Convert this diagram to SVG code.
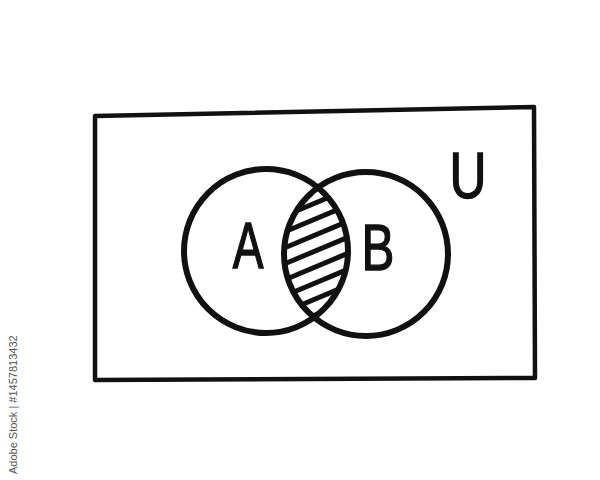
<svg xmlns="http://www.w3.org/2000/svg" width="600" height="480" viewBox="0 0 600 480">
<style>
.ink{fill:none;stroke:#111;stroke-linecap:round;stroke-linejoin:round}
.lbl{font-family:"Liberation Sans",Arial,sans-serif;font-size:64px;fill:#111;text-anchor:middle;stroke:#111;stroke-width:1.4}
.hatch{stroke:#111;stroke-width:5;stroke-linecap:butt}
</style>
<defs>
<clipPath id="clipA"><circle cx="266" cy="251" r="82"/></clipPath>
<clipPath id="clipB"><circle cx="366" cy="254" r="82"/></clipPath>
</defs>
<rect width="600" height="480" fill="#fff"/>
<g id="universe">
<path class="ink" stroke-width="4.5" d="M95,116 L534,107 L535,378 L95,380 Z"/>
<text class="lbl" transform="translate(468,198) scale(0.8,1)">U</text>
</g>
<g id="intersection" clip-path="url(#clipA)">
<g clip-path="url(#clipB)">
<line class="hatch" x1="270" y1="206" x2="370" y2="164"/>
<line class="hatch" x1="270" y1="222" x2="370" y2="180"/>
<line class="hatch" x1="270" y1="238" x2="370" y2="196"/>
<line class="hatch" x1="270" y1="254" x2="370" y2="212"/>
<line class="hatch" x1="270" y1="270" x2="370" y2="228"/>
<line class="hatch" x1="270" y1="286" x2="370" y2="244"/>
<line class="hatch" x1="270" y1="302" x2="370" y2="260"/>
<line class="hatch" x1="270" y1="318" x2="370" y2="276"/>
<line class="hatch" x1="270" y1="334" x2="370" y2="292"/>
<line class="hatch" x1="270" y1="350" x2="370" y2="308"/>
</g>
</g>
<g id="setA">
<circle class="ink" stroke-width="6" cx="266" cy="251" r="82"/>
<text class="lbl" transform="translate(248,268) scale(0.72,1)">A</text>
</g>
<g id="setB">
<circle class="ink" stroke-width="6" cx="366" cy="254" r="82"/>
<text class="lbl" transform="translate(378,270) scale(0.77,1)">B</text>
</g>
<text transform="translate(17,474) rotate(-90)" font-family="'Liberation Sans',Arial,sans-serif" font-size="11" fill="#555">Adobe Stock | #1457813432</text>
</svg>
